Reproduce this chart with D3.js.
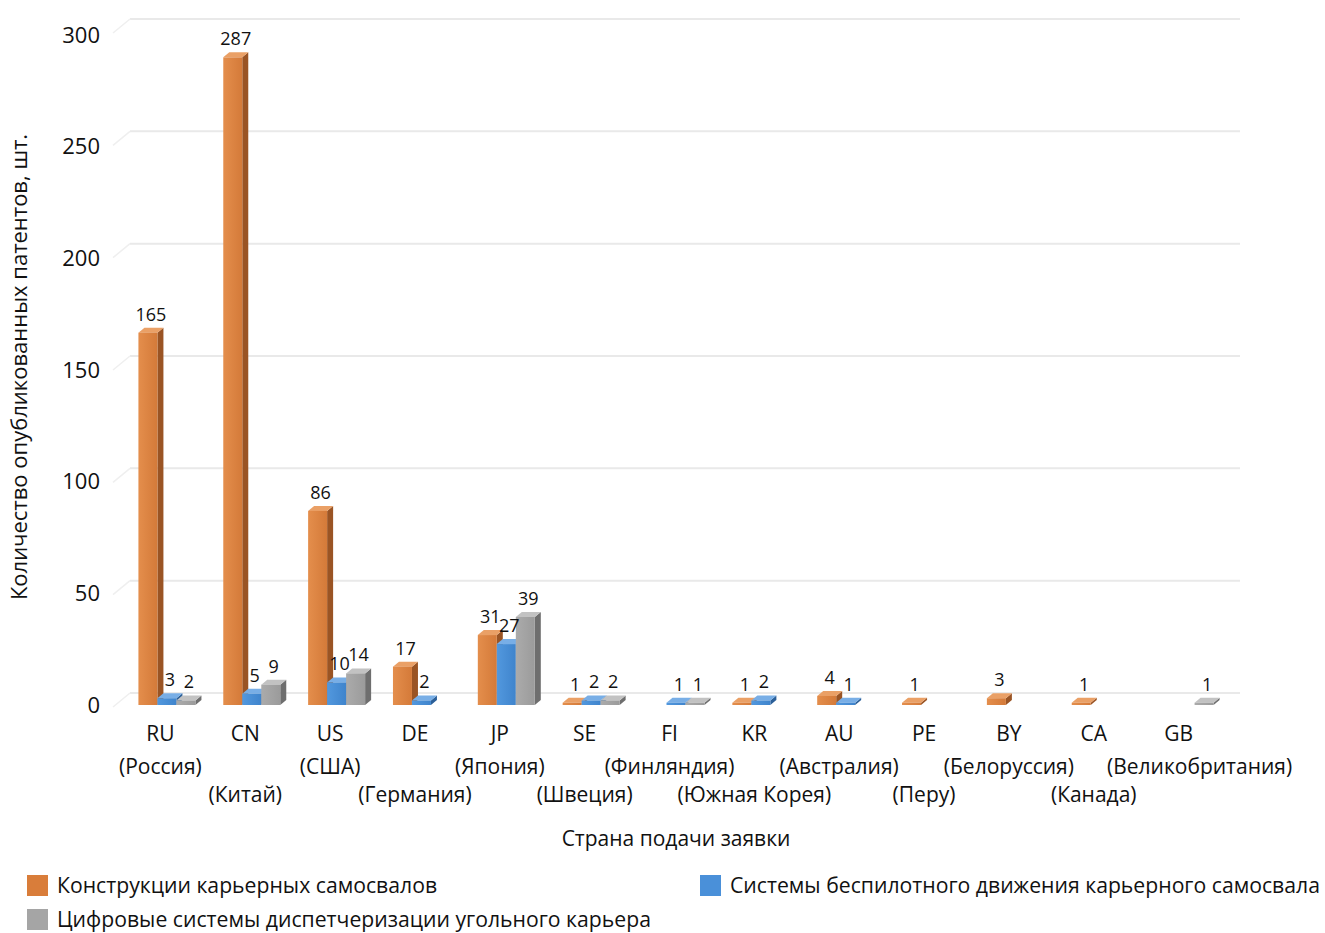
<!DOCTYPE html>
<html>
<head>
<meta charset="utf-8">
<script src="https://cdn.jsdelivr.net/npm/d3@7"></script>
<style>
  html, body { margin: 0; padding: 0; background: #ffffff; }
  svg { display: block; font-family: "Open Sans", "Noto Sans", sans-serif; }
</style>
</head>
<body>
<svg id="chart" width="1325" height="933"></svg>
<script>
// Country codes along the horizontal axis
const categories = ["RU", "CN", "US", "DE", "JP", "SE", "FI", "KR", "AU", "PE", "BY", "CA", "GB"];
const countryNames = ["(Россия)", "(Китай)", "(США)", "(Германия)", "(Япония)", "(Швеция)",
  "(Финляндия)", "(Южная Корея)", "(Австралия)", "(Перу)", "(Белоруссия)", "(Канада)", "(Великобритания)"];

// Series names
const seriesNames = [
  "Конструкции карьерных самосвалов",
  "Системы беспилотного движения карьерного самосвала",
  "Цифровые системы диспетчеризации угольного карьера"
];

// Published patents per country (null = no patents)
const truckDesign   = [165, 287, 86, 17, 31, 1, null, 1, 4, 1, 3, 1, null];
const unmannedDrive = [3, 5, 10, 2, 27, 2, 1, 2, 1, null, null, null, null];
const dispatchSys   = [2, 9, 14, null, 39, 2, 1, null, null, null, null, null, 1];

const yTicks = [0, 50, 100, 150, 200, 250, 300];

const yTitle = "Количество опубликованных патентов, шт.";
const xTitle = "Страна подачи заявки";

const seriesValues = [truckDesign, unmannedDrive, dispatchSys];

const palette = [
  { front0: "#e48e4c", front1: "#d47a39", side: "#9a5424", top: "#eaa066", legend: "#d97d3a" },
  { front0: "#5298de", front1: "#3f84cc", side: "#2b5f98", top: "#78aee6", legend: "#4a90d9" },
  { front0: "#ababab", front1: "#9b9b9b", side: "#6e6e6e", top: "#c2c2c2", legend: "#a5a5a5" }
];

const textColor = "#111111";

const svg = d3.select("#chart");

const defs = svg.append("defs");
palette.forEach((p, i) => {
  const g = defs.append("linearGradient").attr("id", "front" + i)
    .attr("x1", "0%").attr("x2", "100%").attr("y1", "0%").attr("y2", "0%");
  g.append("stop").attr("offset", "0%").attr("stop-color", p.front0);
  g.append("stop").attr("offset", "100%").attr("stop-color", p.front1);
});

// Scales
const x = d3.scaleBand().domain(categories).range([118, 1221]);
const xSeries = d3.scaleBand().domain(d3.range(3)).range([-22, 35]);
const yBar = d3.scaleLinear().domain([0, 300]).range([705, 28]);   // bar plane
const yFront = d3.scaleLinear().domain([0, 300]).range([705, 35]); // front edge for tick labels
const yWall = d3.scaleLinear().domain([0, 300]).range([693, 19]);  // back wall gridlines

const wallLeft = 130, wallRight = 1240;
const depthWall = { dx: -17, dy: 14 };

// Gridlines on back wall plus side-wall edges
const grid = svg.append("g");
yTicks.forEach(t => {
  const gy = yWall(t);
  grid.append("line")
    .attr("x1", wallLeft).attr("x2", wallRight).attr("y1", gy).attr("y2", gy)
    .attr("stroke", "#e9e9e9").attr("stroke-width", 2);
  grid.append("line")
    .attr("x1", wallLeft).attr("x2", wallLeft + depthWall.dx)
    .attr("y1", gy).attr("y2", gy + depthWall.dy)
    .attr("stroke", "#efefef").attr("stroke-width", 1.5);
});

// Y axis tick labels
const yAxis = d3.axisLeft(yFront).tickValues(yTicks).tickSize(0).tickPadding(0);
const yAxisG = svg.append("g").attr("transform", "translate(100,0)").call(yAxis);
yAxisG.select(".domain").remove();
yAxisG.selectAll("text")
  .attr("font-size", 22).attr("fill", textColor)
  .attr("font-family", "'Open Sans', sans-serif");

// Y axis title
svg.append("text")
  .attr("transform", "translate(27,367) rotate(-90)")
  .attr("text-anchor", "middle")
  .attr("font-size", 22).attr("fill", textColor)
  .text(yTitle);

// 3D columns
const bw = xSeries.bandwidth();
const dx = 6, dy = -5;
const bars = svg.append("g");
const labels = svg.append("g");

categories.forEach((c, ci) => {
  seriesValues.forEach((vals, si) => {
    const v = vals[ci];
    if (v == null) return;
    const x0 = x(c) + x.bandwidth() / 2 + xSeries(si);
    const x1 = x0 + bw;
    const yt = yBar(v), yb = yBar(0);
    const p = palette[si];
    const g = bars.append("g");
    // right side face
    g.append("path")
      .attr("d", `M${x1},${yt}L${x1 + dx},${yt + dy}L${x1 + dx},${yb + dy}L${x1},${yb}Z`)
      .attr("fill", p.side);
    // top face
    g.append("path")
      .attr("d", `M${x0},${yt}L${x0 + dx},${yt + dy}L${x1 + dx},${yt + dy}L${x1},${yt}Z`)
      .attr("fill", p.top);
    // front face
    g.append("rect")
      .attr("x", x0).attr("y", yt).attr("width", bw).attr("height", yb - yt)
      .attr("fill", `url(#front${si})`);

    labels.append("text")
      .attr("x", (x0 + x1) / 2 + 3)
      .attr("y", yt - 12)
      .attr("text-anchor", "middle")
      .attr("font-size", 18).attr("fill", textColor)
      .text(v);
  });
});

// Category labels (codes, then names staggered on two rows)
const xl = svg.append("g");
categories.forEach((c, ci) => {
  const cx = x(c) + x.bandwidth() / 2;
  xl.append("text")
    .attr("x", cx).attr("y", 741)
    .attr("text-anchor", "middle")
    .attr("font-size", 21).attr("fill", textColor)
    .text(c);
  // the last (longest) name sits a little to the right of its code
  const shift = ci === categories.length - 1 ? 21 : 0;
  xl.append("text")
    .attr("x", cx + shift).attr("y", ci % 2 === 0 ? 774 : 802)
    .attr("text-anchor", "middle")
    .attr("font-size", 21).attr("fill", textColor)
    .text(countryNames[ci]);
});

// X axis title
svg.append("text")
  .attr("x", 676).attr("y", 846)
  .attr("text-anchor", "middle")
  .attr("font-size", 21).attr("fill", textColor)
  .text(xTitle);

// Legend
const legendPos = [[27, 875], [700, 875], [27, 909]];
seriesNames.forEach((name, i) => {
  const [lx, ly] = legendPos[i];
  svg.append("rect")
    .attr("x", lx).attr("y", ly).attr("width", 21).attr("height", 21)
    .attr("fill", palette[i].legend);
  svg.append("text")
    .attr("x", lx + 30).attr("y", ly + 18)
    .attr("font-size", 21.2).attr("fill", textColor)
    .text(name);
});
</script>
</body>
</html>
